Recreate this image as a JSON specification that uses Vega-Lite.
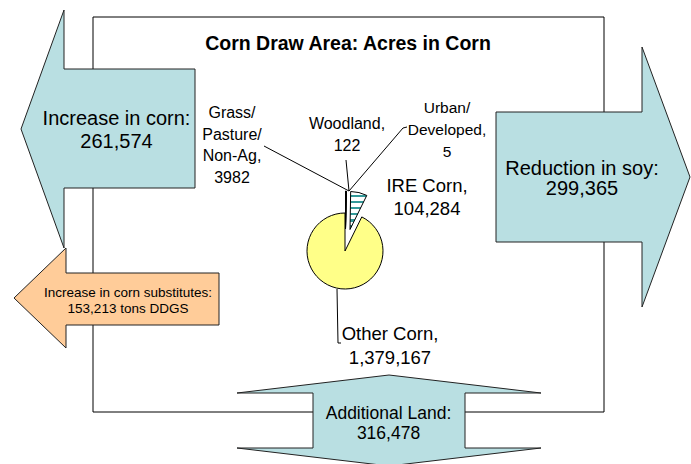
{
  "$schema": "https://vega.github.io/schema/vega-lite/v6.json",
  "width": 691,
  "height": 464,
  "padding": 0,
  "autosize": {"type": "none"},
  "background": "#ffffff",
  "config": {
    "view": {"stroke": null},
    "axis": {"disable": true},
    "text": {"font": "Liberation Sans", "color": "#000000"}
  },
  "datasets": {
    "pie": [
      {"category": "Grass/Pasture/Non-Ag", "acres": 3982, "order": 1, "label": ["Grass/", "Pasture/", "Non-Ag,", "3982"]},
      {"category": "Woodland", "acres": 122, "order": 2, "label": ["Woodland,", "122"]},
      {"category": "Urban/Developed", "acres": 5, "order": 3, "label": ["Urban/", "Developed,", "5"]},
      {"category": "IRE Corn", "acres": 104284, "order": 4, "label": ["IRE Corn,", "104,284"]},
      {"category": "Other Corn", "acres": 1379167, "order": 5, "label": ["Other Corn,", "1,379,167"]}
    ],
    "flows": [
      {"flow": "Increase in corn", "value": 261574, "label": ["Increase in corn:", "261,574"]},
      {"flow": "Increase in corn substitutes", "value": 153213, "label": ["Increase in corn substitutes:", "153,213 tons DDGS"]},
      {"flow": "Reduction in soy", "value": 299365, "label": ["Reduction in soy:", "299,365"]},
      {"flow": "Additional Land", "value": 316478, "label": ["Additional Land:", "316,478"]}
    ],
    "title": [{"text": "Corn Draw Area: Acres in Corn"}]
  },
  "layer": [
    {
      "data": {"name": "title"},
      "mark": {"type": "rect", "filled": false, "stroke": "#000000", "strokeWidth": 1},
      "encoding": {
        "x": {"datum": 93, "type": "quantitative", "scale": {"domain": [0, 691], "nice": false, "zero": false}, "axis": null},
        "x2": {"datum": 604},
        "y": {"datum": 17, "type": "quantitative", "scale": {"domain": [0, 464], "reverse": true, "nice": false, "zero": false}, "axis": null},
        "y2": {"datum": 412}
      }
    },
    {
      "data": {"name": "flows"},
      "transform": [{"filter": "datum.flow === 'Increase in corn'"}],
      "layer": [
        {
          "mark": {"type": "point", "shape": "M-97,0L-54,-119L-54,-60L77,-60L77,59L-54,59L-54,119Z", "size": 4, "filled": true, "fill": "#B9DFE2", "stroke": "#222222", "strokeWidth": 1, "opacity": 1, "fillOpacity": 1},
          "encoding": {"x": {"datum": 118, "type": "quantitative"}, "y": {"datum": 129, "type": "quantitative"}}
        },
        {
          "mark": {"type": "text", "fontSize": 20, "lineHeight": 23, "align": "center", "baseline": "alphabetic"},
          "encoding": {"x": {"datum": 116.5, "type": "quantitative"}, "y": {"datum": 125, "type": "quantitative"}, "text": {"field": "label", "type": "nominal"}}
        }
      ]
    },
    {
      "data": {"name": "flows"},
      "transform": [{"filter": "datum.flow === 'Increase in corn substitutes'"}],
      "layer": [
        {
          "mark": {"type": "point", "shape": "M-114,0L-62,-50L-62,-25L91,-25L91,27L-62,27L-62,50Z", "size": 4, "filled": true, "fill": "#FFCC99", "stroke": "#222222", "strokeWidth": 1, "opacity": 1, "fillOpacity": 1},
          "encoding": {"x": {"datum": 128, "type": "quantitative"}, "y": {"datum": 298, "type": "quantitative"}}
        },
        {
          "mark": {"type": "text", "fontSize": 13.5, "lineHeight": 16, "align": "center", "baseline": "alphabetic"},
          "encoding": {"x": {"datum": 128, "type": "quantitative"}, "y": {"datum": 297, "type": "quantitative"}, "text": {"field": "label", "type": "nominal"}}
        }
      ]
    },
    {
      "data": {"name": "flows"},
      "transform": [{"filter": "datum.flow === 'Reduction in soy'"}],
      "layer": [
        {
          "mark": {"type": "point", "shape": "M-81,-65L65,-65L65,-130L113,0L65,130L65,65L-81,65Z", "size": 4, "filled": true, "fill": "#B9DFE2", "stroke": "#222222", "strokeWidth": 1, "opacity": 1, "fillOpacity": 1},
          "encoding": {"x": {"datum": 577, "type": "quantitative"}, "y": {"datum": 177, "type": "quantitative"}}
        },
        {
          "mark": {"type": "text", "fontSize": 20, "lineHeight": 20, "align": "center", "baseline": "alphabetic"},
          "encoding": {"x": {"datum": 582, "type": "quantitative"}, "y": {"datum": 175, "type": "quantitative"}, "text": {"field": "label", "type": "nominal"}}
        }
      ]
    },
    {
      "data": {"name": "flows"},
      "transform": [{"filter": "datum.flow === 'Additional Land'"}],
      "layer": [
        {
          "mark": {"type": "point", "shape": "M0,-46L152,-28L76,-28L76,27L152,27L0,45L-152,27L-76,27L-76,-28L-152,-28Z", "size": 4, "filled": true, "fill": "#B9DFE2", "stroke": "#222222", "strokeWidth": 1, "opacity": 1, "fillOpacity": 1},
          "encoding": {"x": {"datum": 389, "type": "quantitative"}, "y": {"datum": 421, "type": "quantitative"}}
        },
        {
          "mark": {"type": "text", "fontSize": 17.5, "lineHeight": 20, "align": "center", "baseline": "alphabetic"},
          "encoding": {"x": {"datum": 388.5, "type": "quantitative"}, "y": {"datum": 419, "type": "quantitative"}, "text": {"field": "label", "type": "nominal"}}
        }
      ]
    },
    {
      "data": {"name": "title"},
      "mark": {"type": "point", "shape": "M0,0L-85,-45M0,0L-3,-31M0,0L54,-63L58,-64M-12,98L-11,152L-8,152", "size": 4, "filled": false, "stroke": "#000000", "strokeWidth": 1, "opacity": 1},
      "encoding": {"x": {"datum": 349, "type": "quantitative"}, "y": {"datum": 191, "type": "quantitative"}}
    },
    {
      "data": {"name": "pie"},
      "transform": [
        {"stack": "acres", "groupby": [], "sort": [{"field": "order", "order": "ascending"}], "offset": "normalize", "as": ["t0", "t1"]}
      ],
      "layer": [
        {
          "transform": [{"filter": "datum.category === 'Other Corn'"}],
          "mark": {"type": "arc", "outerRadius": 38, "fill": "#FFFF88", "stroke": "#000000", "strokeWidth": 1},
          "encoding": {
            "theta": {"field": "t0", "type": "quantitative", "scale": {"domain": [0, 1]}},
            "theta2": {"field": "t1"},
            "x": {"datum": 345, "type": "quantitative"},
            "y": {"datum": 251, "type": "quantitative"}
          }
        },
        {
          "transform": [{"filter": "datum.category === 'Grass/Pasture/Non-Ag' || datum.category === 'Woodland' || datum.category === 'Urban/Developed'"}],
          "mark": {"type": "arc", "outerRadius": 38, "fill": "#ffffff", "stroke": "#000000", "strokeWidth": 1},
          "encoding": {
            "theta": {"field": "t0", "type": "quantitative"},
            "theta2": {"field": "t1"},
            "x": {"datum": 345.5, "type": "quantitative"},
            "y": {"datum": 229, "type": "quantitative"}
          }
        },
        {
          "transform": [{"filter": "datum.category === 'IRE Corn'"}],
          "mark": {
            "type": "arc", "outerRadius": 38, "stroke": "#000000", "strokeWidth": 1,
            "fill": {
              "gradient": "linear", "x1": 0, "y1": 0, "x2": 0, "y2": 1,
              "stops": [
                {"offset": 0, "color": "#ffffff"},
                {"offset": 0.08, "color": "#ffffff"}, {"offset": 0.08, "color": "#339999"},
                {"offset": 0.15, "color": "#339999"}, {"offset": 0.15, "color": "#ffffff"},
                {"offset": 0.24, "color": "#ffffff"}, {"offset": 0.24, "color": "#339999"},
                {"offset": 0.31, "color": "#339999"}, {"offset": 0.31, "color": "#ffffff"},
                {"offset": 0.40, "color": "#ffffff"}, {"offset": 0.40, "color": "#339999"},
                {"offset": 0.47, "color": "#339999"}, {"offset": 0.47, "color": "#ffffff"},
                {"offset": 0.56, "color": "#ffffff"}, {"offset": 0.56, "color": "#339999"},
                {"offset": 0.63, "color": "#339999"}, {"offset": 0.63, "color": "#ffffff"},
                {"offset": 0.72, "color": "#ffffff"}, {"offset": 0.72, "color": "#339999"},
                {"offset": 0.79, "color": "#339999"}, {"offset": 0.79, "color": "#ffffff"},
                {"offset": 0.88, "color": "#ffffff"}, {"offset": 0.88, "color": "#339999"},
                {"offset": 0.95, "color": "#339999"}, {"offset": 0.95, "color": "#ffffff"},
                {"offset": 1, "color": "#ffffff"}
              ]
            }
          },
          "encoding": {
            "theta": {"field": "t0", "type": "quantitative"},
            "theta2": {"field": "t1"},
            "x": {"datum": 350, "type": "quantitative"},
            "y": {"datum": 229.5, "type": "quantitative"}
          }
        }
      ]
    },
    {
      "data": {"name": "pie"},
      "transform": [{"filter": "datum.category === 'Grass/Pasture/Non-Ag'"}],
      "mark": {"type": "text", "fontSize": 16, "lineHeight": 21.5, "align": "center", "baseline": "alphabetic"},
      "encoding": {"x": {"datum": 232, "type": "quantitative"}, "y": {"datum": 118, "type": "quantitative"}, "text": {"field": "label", "type": "nominal"}}
    },
    {
      "data": {"name": "pie"},
      "transform": [{"filter": "datum.category === 'Woodland'"}],
      "mark": {"type": "text", "fontSize": 16, "lineHeight": 22, "align": "center", "baseline": "alphabetic"},
      "encoding": {"x": {"datum": 347, "type": "quantitative"}, "y": {"datum": 129, "type": "quantitative"}, "text": {"field": "label", "type": "nominal"}}
    },
    {
      "data": {"name": "pie"},
      "transform": [{"filter": "datum.category === 'Urban/Developed'"}],
      "mark": {"type": "text", "fontSize": 15.5, "lineHeight": 22, "align": "center", "baseline": "alphabetic"},
      "encoding": {"x": {"datum": 447, "type": "quantitative"}, "y": {"datum": 113, "type": "quantitative"}, "text": {"field": "label", "type": "nominal"}}
    },
    {
      "data": {"name": "pie"},
      "transform": [{"filter": "datum.category === 'IRE Corn'"}],
      "mark": {"type": "text", "fontSize": 18.5, "lineHeight": 23, "align": "center", "baseline": "alphabetic"},
      "encoding": {"x": {"datum": 427, "type": "quantitative"}, "y": {"datum": 192, "type": "quantitative"}, "text": {"field": "label", "type": "nominal"}}
    },
    {
      "data": {"name": "pie"},
      "transform": [{"filter": "datum.category === 'Other Corn'"}],
      "mark": {"type": "text", "fontSize": 18.5, "lineHeight": 24, "align": "center", "baseline": "alphabetic"},
      "encoding": {"x": {"datum": 390, "type": "quantitative"}, "y": {"datum": 340, "type": "quantitative"}, "text": {"field": "label", "type": "nominal"}}
    },
    {
      "data": {"name": "title"},
      "mark": {"type": "text", "fontSize": 19.5, "fontWeight": "bold", "align": "center", "baseline": "alphabetic"},
      "encoding": {"x": {"datum": 348, "type": "quantitative"}, "y": {"datum": 50, "type": "quantitative"}, "text": {"field": "text", "type": "nominal"}}
    }
  ]
}
